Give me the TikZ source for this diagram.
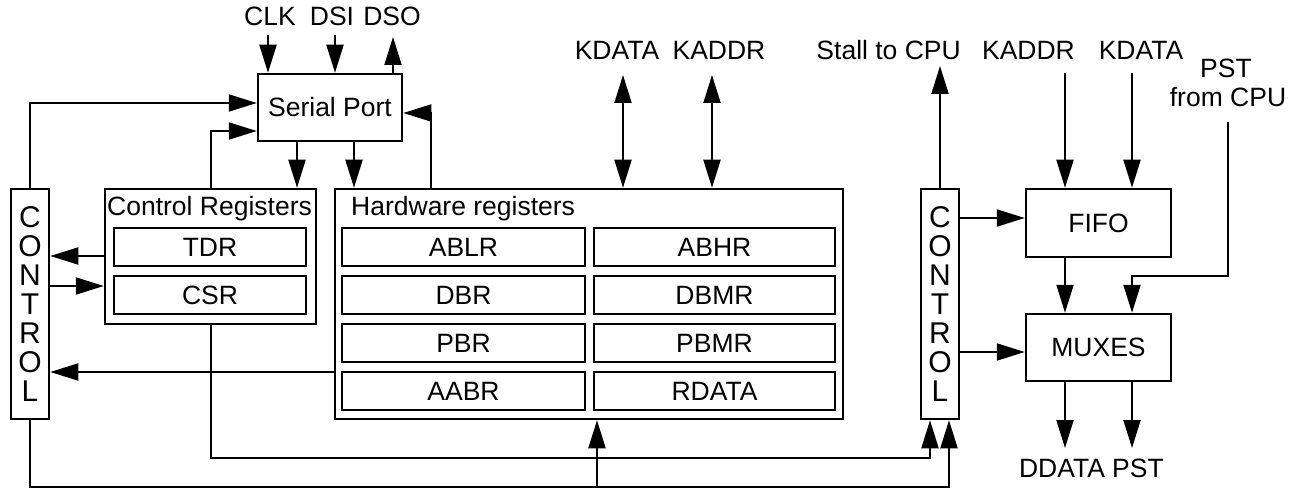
\documentclass[tikz,border=0pt]{standalone}
\usepackage{fontspec}
\setmainfont{Liberation Sans}
\usepackage{tikz}
\usetikzlibrary{arrows.meta}

\tikzset{
  blk/.style={draw=black,line width=2.5pt,inner sep=0pt},
  ctl/.style={blk,minimum width=38,minimum height=230,align=center,
    font=\fontsize{30}{29}\selectfont},
  reg/.style={blk,minimum height=38},
  arr/.style={line width=2pt,-{Triangle[length=28pt,width=17pt]}},
  arrtwo/.style={line width=2pt,{Triangle[length=28pt,width=17pt]}-{Triangle[length=28pt,width=17pt]}},
  lbl/.style={inner sep=0pt,anchor=base}
}

\begin{document}
\begin{tikzpicture}[x=1pt,y=-1pt,font=\fontsize{26.5}{29}\selectfont]
    \useasboundingbox (0,0) rectangle (1295,489);

    % blocks
    \node[blk,minimum width=144,minimum height=67] (sp) at (330,107.5) {Serial Port};
    \node[ctl] (lctl) at (30,304) {C\\O\\N\\T\\R\\O\\L};
    \node[ctl] (rctl) at (940,304) {C\\O\\N\\T\\R\\O\\L};
    \node[blk,minimum width=211,minimum height=135] (creg) at (210.5,256.5) {};
    \node[lbl,anchor=west] (cregtxt) at (107,209) {Control Registers};
    \node[reg,minimum width=192] (tdr) at (210,247) {TDR};
    \node[reg,minimum width=192] (csr) at (210,295) {CSR};
    \node[blk,minimum width=508,minimum height=230] (hw) at (589,304) {};
    \node[lbl,anchor=west] (hwtxt) at (351,209) {Hardware registers};
    \node[reg,minimum width=243] (ablr) at (463.5,247) {ABLR};
    \node[reg,minimum width=241] (abhr) at (714.5,247) {ABHR};
    \node[reg,minimum width=243] (dbr) at (463.5,295) {DBR};
    \node[reg,minimum width=241] (dbmr) at (714.5,295) {DBMR};
    \node[reg,minimum width=243] (pbr) at (463.5,343) {PBR};
    \node[reg,minimum width=241] (pbmr) at (714.5,343) {PBMR};
    \node[reg,minimum width=243] (aabr) at (463.5,391) {AABR};
    \node[reg,minimum width=241] (rdata) at (714.5,391) {RDATA};
    \node[blk,minimum width=145,minimum height=68] (fifo) at (1098.5,223) {FIFO};
    \node[blk,minimum width=145,minimum height=67] (mux) at (1098.5,347.5) {MUXES};

    % labels
    \node[lbl] (clk) at (270,26) {CLK};
    \node[lbl] (dsi) at (332,26) {DSI};
    \node[lbl] (dso) at (392,26) {DSO};
    \node[lbl] (kdatahw) at (617,60) {KDATA};
    \node[lbl] (kaddrhw) at (719,60) {KADDR};
    \node[lbl,anchor=base east] (stall) at (961,60) {Stall to CPU};
    \node[lbl] (kaddrin) at (1028.5,60) {KADDR};
    \node[lbl] (kdatain) at (1141,60) {KDATA};
    \node[lbl] (psttop) at (1226,78) {PST};
    \node[lbl] (pstcpu) at (1228,107) {from CPU};
    \node[lbl] (ddata) at (1062,477) {DDATA};
    \node[lbl] (pstout) at (1138,477) {PST};

    % helper points
    \coordinate (clkp) at (268,35);
    \coordinate (dsip) at (335,35);
    \coordinate (dsop) at (393,37);
    \coordinate (kdp) at (623,75);
    \coordinate (kap) at (712,75);
    \coordinate (stallp) at (940,66);
    \coordinate (kaddrp) at (1065,73);
    \coordinate (kdatap) at (1132,73);
    \coordinate (pstp) at (1228,122);
    \coordinate (pstbend) at (1132,276);
    \coordinate (ddatap) at (1065,448);
    \coordinate (pstoutp) at (1132,448);
    \coordinate (csrbus) at (930,458);
    \coordinate (ctlbus) at (949,487);
    \coordinate (hwin) at (597,487);

    % serial port connections
    \draw[arr] (clkp) -- (clkp |- sp.north);
    \draw[arr] (dsip) -- (dsip |- sp.north);
    \draw[arr] (dsop |- sp.north) -- (dsop);
    \draw[arr] (lctl.north) |- (sp.west |- 0,103);
    \draw[arr] (creg.north) |- (sp.west |- 0,131);
    \draw[arr] (hw.north -| 431,0) |- (sp.east |- 0,113);
    \draw[arr] (sp.south -| 297,0) -- (creg.north -| 297,0);
    \draw[arr] (sp.south -| 354,0) -- (hw.north -| 354,0);

    % registers and control
    \draw[arrtwo] (kdp) -- (kdp |- hw.north);
    \draw[arrtwo] (kap) -- (kap |- hw.north);
    \draw[arr] (creg.west |- 0,256) -- (lctl.east |- 0,256);
    \draw[arr] (lctl.east |- 0,286) -- (creg.west |- 0,286);
    \draw[arr] (hw.west |- 0,372) -- (lctl.east |- 0,372);
    \draw[arr] (creg.south) |- (csrbus) -- (csrbus |- rctl.south);
    \draw[arr] (lctl.south) |- (ctlbus) -- (ctlbus |- rctl.south);
    \draw[arr] (hwin) -- (hwin |- hw.south);

    % trace side
    \draw[arr] (rctl.north) -- (stallp);
    \draw[arr] (kaddrp) -- (kaddrp |- fifo.north);
    \draw[arr] (kdatap) -- (kdatap |- fifo.north);
    \draw[arr] (fifo.south -| 1065,0) -- (mux.north -| 1065,0);
    \draw[arr] (pstp) |- (pstbend) -- (pstbend |- mux.north);
    \draw[arr] (rctl.east |- 0,218) -- (fifo.west |- 0,218);
    \draw[arr] (rctl.east |- 0,352) -- (mux.west |- 0,352);
    \draw[arr] (ddatap |- mux.south) -- (ddatap);
    \draw[arr] (pstoutp |- mux.south) -- (pstoutp);
\end{tikzpicture}
\end{document}
